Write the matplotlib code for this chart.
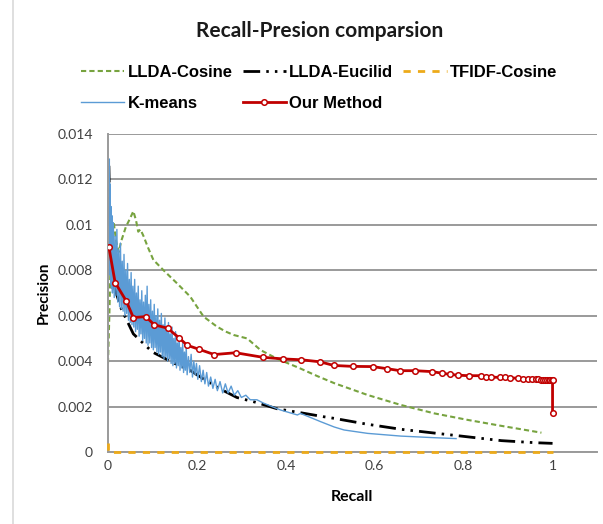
import numpy as np
import matplotlib.pyplot as plt
from matplotlib.lines import Line2D

# ---- data ----
cosine_recall = [0.0, 0.003, 0.006, 0.010, 0.013, 0.018, 0.024, 0.030, 0.040, 0.050, 0.057,
                 0.063, 0.068, 0.073, 0.080, 0.090, 0.102, 0.125, 0.155, 0.185, 0.200, 0.215,
                 0.245, 0.265, 0.283, 0.313, 0.343, 0.381, 0.430, 0.471, 0.509, 0.584, 0.659,
                 0.734, 0.810, 0.885, 0.975]
cosine_prec = [0.0039, 0.0060, 0.0085, 0.0098, 0.0101, 0.0093, 0.0088, 0.0093, 0.0099, 0.0103,
               0.0106, 0.0102, 0.0097, 0.0098, 0.0095, 0.0090, 0.00846, 0.0080, 0.00743, 0.00684,
               0.0064, 0.00596, 0.00552, 0.00530, 0.00515, 0.0050, 0.00449, 0.00410, 0.00370,
               0.00334, 0.00303, 0.00251, 0.00207, 0.00170, 0.00141, 0.00115, 0.00085]

eucl_recall = [0.002, 0.004, 0.008, 0.015, 0.030, 0.057, 0.100, 0.150, 0.185, 0.200, 0.250,
               0.290, 0.330, 0.381, 0.433, 0.486, 0.509, 0.584, 0.659, 0.772, 0.885, 0.960, 1.0]
eucl_prec = [0.0126, 0.0105, 0.0085, 0.0072, 0.0063, 0.0052, 0.0044, 0.0039, 0.0036, 0.0034,
             0.0028, 0.0024, 0.0022, 0.0019, 0.00173, 0.00155, 0.00148, 0.00122, 0.0010,
             0.00075, 0.0005, 0.00041, 0.00038]

tfidf_recall = [0.0, 0.0, 1.0]
tfidf_prec = [0.0004, 0.0, 0.0]

kmeans_recall = [0.002, 0.003, 0.004, 0.005, 0.006, 0.007, 0.008, 0.009, 0.010, 0.012,
                 0.014, 0.016, 0.018, 0.020, 0.022, 0.024, 0.026, 0.028, 0.030, 0.032,
                 0.034, 0.036, 0.038, 0.040, 0.042, 0.044, 0.046, 0.048, 0.050, 0.052,
                 0.054, 0.056, 0.058, 0.060, 0.062, 0.064, 0.066, 0.068, 0.070, 0.072,
                 0.074, 0.076, 0.078, 0.080, 0.082, 0.084, 0.086, 0.088, 0.090, 0.092,
                 0.094, 0.096, 0.098, 0.100, 0.102, 0.104, 0.106, 0.108, 0.110, 0.112,
                 0.114, 0.116, 0.118, 0.120, 0.122, 0.124, 0.126, 0.128, 0.130, 0.132,
                 0.134, 0.136, 0.138, 0.140, 0.142, 0.144, 0.146, 0.148, 0.150, 0.152,
                 0.154, 0.156, 0.158, 0.160, 0.162, 0.164, 0.166, 0.168, 0.170, 0.172,
                 0.174, 0.176, 0.178, 0.181, 0.184, 0.187, 0.190, 0.193, 0.196, 0.199,
                 0.202, 0.206, 0.210, 0.214, 0.218, 0.222, 0.226, 0.231, 0.236, 0.241,
                 0.246, 0.252, 0.258, 0.264, 0.270, 0.277, 0.284, 0.292, 0.300, 0.310,
                 0.320, 0.335, 0.350, 0.388, 0.426, 0.433, 0.479, 0.509, 0.531, 0.584,
                 0.659, 0.734, 0.783]
kmeans_prec = [0.0100, 0.0129, 0.0078, 0.0118, 0.0074, 0.0108, 0.0072, 0.0104, 0.0070, 0.0101,
               0.0068, 0.0095, 0.0069, 0.0098, 0.0066, 0.0089, 0.0064, 0.0092, 0.0063, 0.0084,
               0.0062, 0.0087, 0.0060, 0.0080, 0.0061, 0.0083, 0.0058, 0.0076, 0.0057, 0.0079,
               0.0056, 0.0073, 0.0055, 0.0076, 0.0053, 0.0070, 0.0054, 0.0073, 0.0051, 0.0067,
               0.0052, 0.0071, 0.0049, 0.0066, 0.0050, 0.0069, 0.0048, 0.0073, 0.0047, 0.0065,
               0.0048, 0.0067, 0.0046, 0.0062, 0.0045, 0.0065, 0.0046, 0.0060, 0.0044, 0.0063,
               0.0043, 0.0058, 0.0044, 0.0061, 0.0042, 0.0056, 0.0041, 0.0059, 0.0042, 0.0054,
               0.0040, 0.0057, 0.0041, 0.0052, 0.0039, 0.0055, 0.0038, 0.0050, 0.0039, 0.0053,
               0.0037, 0.0048, 0.0038, 0.0051, 0.0036, 0.0046, 0.0037, 0.0048, 0.0035, 0.0044,
               0.0036, 0.0046, 0.0034, 0.0042, 0.0035, 0.0043, 0.0033, 0.0040, 0.0034, 0.0039,
               0.0032, 0.0038, 0.0031, 0.0036, 0.0030, 0.0035, 0.0029, 0.0033, 0.0028, 0.0032,
               0.0027, 0.0031, 0.0026, 0.0030, 0.0026, 0.0029, 0.0025, 0.0027, 0.0024, 0.0025,
               0.0023, 0.0023, 0.00215, 0.00185, 0.00163, 0.0017, 0.00133, 0.0011, 0.00097,
               0.00082, 0.0007, 0.00063, 0.00059]

ours_recall = [0.002, 0.016, 0.041, 0.057, 0.085, 0.104, 0.134, 0.159, 0.178, 0.205, 0.239,
               0.287, 0.348, 0.393, 0.435, 0.477, 0.508, 0.550, 0.595, 0.627, 0.657, 0.690,
               0.728, 0.751, 0.769, 0.787, 0.812, 0.838, 0.851, 0.862, 0.881, 0.893, 0.905,
               0.922, 0.934, 0.944, 0.953, 0.962, 0.968, 0.974, 0.979, 0.984, 0.988, 0.992,
               0.995, 0.998, 1.0, 1.0]
ours_prec = [0.00902, 0.00746, 0.00665, 0.00592, 0.00596, 0.0056, 0.00545, 0.00504, 0.0047,
             0.00452, 0.00429, 0.00437, 0.00417, 0.0041, 0.00406, 0.00397, 0.00381, 0.00377,
             0.00376, 0.00367, 0.00358, 0.00358, 0.00354, 0.00347, 0.00342, 0.00338, 0.00336,
             0.00336, 0.00332, 0.00329, 0.00329, 0.00328, 0.00326, 0.00325, 0.00323, 0.00322,
             0.00321, 0.0032, 0.0032, 0.00319, 0.00319, 0.00318, 0.00318, 0.00317, 0.00317,
             0.00316, 0.00315, 0.0017]

x_ticks = [0, 0.2, 0.4, 0.6, 0.8, 1.0]
x_labels = ['0', '0.2', '0.4', '0.6', '0.8', '1']
y_ticks = [0, 0.002, 0.004, 0.006, 0.008, 0.010, 0.012, 0.014]
y_labels = ['0', '0.002', '0.004', '0.006', '0.008', '0.01', '0.012', '0.014']

W, H = 603, 524
fig = plt.figure(figsize=(W / 100, H / 100), dpi=100)
ax = fig.add_axes([108 / W, 1 - 452 / H, (597 - 108) / W, (452 - 134) / H])

l_cos, = ax.plot(cosine_recall, cosine_prec, color='#77A33F', lw=1.5,
                 linestyle=(0, (2.5, 1.5)), label='LLDA-Cosine')
l_euc, = ax.plot(eucl_recall, eucl_prec, color='black', lw=2.0,
                 linestyle=(0, (6, 2.2, 0.9, 2.2, 0.9, 2.2)), label='LLDA-Eucilid')
l_tf, = ax.plot(tfidf_recall, tfidf_prec, color='#EDAA1A', lw=2.0, zorder=3,
                linestyle=(0, (2.6, 2.6)), label='TFIDF-Cosine', clip_on=False)
l_km, = ax.plot(kmeans_recall, kmeans_prec, color='#5B9BD5', lw=1.0, label='K-means')
l_ours, = ax.plot(ours_recall, ours_prec, color='#C00000', lw=2.0, marker='o', ms=4,
                  mfc='white', mec='#C00000', mew=1.1, label='Our Method', zorder=4)

ax.set_xlim(0, 1.1)
ax.set_ylim(0, 0.014)
ax.set_xticks(x_ticks)
ax.set_xticklabels(x_labels)
ax.set_yticks(y_ticks)
ax.set_yticklabels(y_labels)
for lab in ax.get_xticklabels() + ax.get_yticklabels():
    lab.set_fontfamily('Lato')
    lab.set_fontsize(10)
    lab.set_color('#404040')
ax.tick_params(axis='both', length=0)
ax.tick_params(axis='y', pad=11)
ax.tick_params(axis='x', pad=6)

ax.grid(axis='y', color='#9A9A9A', lw=1.4)
ax.set_axisbelow(True)
for s in ['top', 'right']:
    ax.spines[s].set_visible(False)
for s in ['left', 'bottom']:
    ax.spines[s].set_color('#9A9A9A')
    ax.spines[s].set_linewidth(1.4)

fig.text(320 / W, 1 - 31 / H, 'Recall-Presion comparsion', ha='center', va='center',
         fontfamily='Lato', fontweight='bold', fontsize=15, color='#1a1a1a')
fig.text(44 / W, 1 - 293 / H, 'Precision', rotation=90, ha='center', va='center',
         fontfamily='Lato', fontweight='bold', fontsize=11)
fig.text(352 / W, 1 - 497 / H, 'Recall', ha='center', va='center',
         fontfamily='Lato', fontweight='bold', fontsize=11.5)

handles = [l_cos, l_km, l_euc, l_ours, l_tf]
fig.legend(handles=handles, labels=[h.get_label() for h in handles], ncol=3,
           loc='upper left', bbox_to_anchor=(81 / W, 1 - 65 / H), frameon=False,
           prop={'family': 'Liberation Sans', 'weight': 'bold', 'size': 12},
           handlelength=2.6, handletextpad=0.2, columnspacing=0.6, labelspacing=0.93,
           borderpad=0, borderaxespad=0)

fig.add_artist(Line2D([13 / W, 13 / W], [0, 1], color='#D9D9D9', lw=1.2,
                      transform=fig.transFigure))

fig.savefig('out.png', dpi=100)
